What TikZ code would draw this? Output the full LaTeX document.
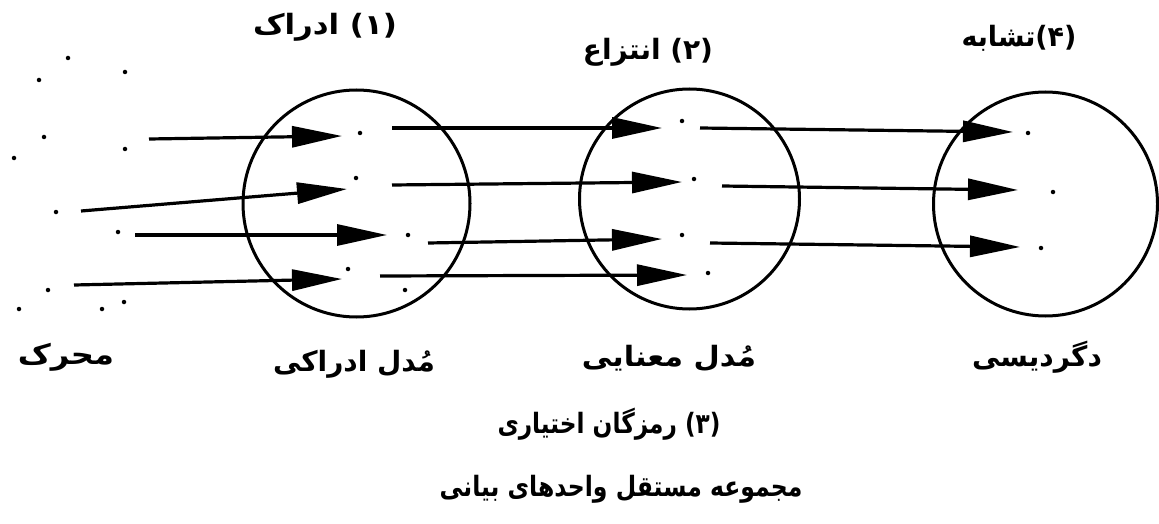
\documentclass[tikz,border=0pt]{standalone}
\usepackage{fontspec}
\usetikzlibrary{arrows.meta}
\TeXXeTstate=1
\newfontfamily\arabicfont[Script=Arabic]{DejaVu Sans}
\begin{document}
\begin{tikzpicture}[x=1pt,y=-1pt,
  dot/.style={circle,fill=black,inner sep=0pt,minimum size=4.5pt},
  ring/.style={draw=black,line width=3pt},
  flow/.style={line width=3.2pt,-{Triangle[length=50pt,width=21pt]}},
  lbl/.style={font=\arabicfont\bfseries\fontsize{28}{32}\selectfont,anchor=base,inner sep=0pt}]
\useasboundingbox[fill=white] (0,0) rectangle (1159,524);
% circles
\draw[ring] (356.5,203.5) circle[radius=113.5];
\draw[ring] (689.5,199) circle[radius=110];
\draw[ring] (1045.5,204) circle[radius=112];
% source dots
\foreach \n/\x/\y in {1/68/58,2/39/80,3/125/72,4/44/137,5/125/149,6/14/158,7/56/212,8/118/232,9/48/290,10/124/302,11/19/309,12/102/309}
  \node[dot] (s\n) at (\x,\y) {};
% perceptual model dots
\foreach \n/\x/\y in {1/360/133,2/356/178,3/408/235,4/348/269,5/405/290}
  \node[dot] (p\n) at (\x,\y) {};
% semantic model dots
\foreach \n/\x/\y in {1/682/121,2/694/179,3/682/235,4/708/273}
  \node[dot] (m\n) at (\x,\y) {};
% transformation dots
\foreach \n/\x/\y in {1/1028/133,2/1053/192,3/1041/248}
  \node[dot] (t\n) at (\x,\y) {};
% arrow end points
\coordinate (a1s) at (149,139); \coordinate (a1e) at (342,136);
\coordinate (a2s) at (81,211);  \coordinate (a2e) at (347,189);
\coordinate (a3s) at (135,235); \coordinate (a3e) at (387,235);
\coordinate (a4s) at (74,285);  \coordinate (a4e) at (342,279);
\coordinate (b1s) at (392,128); \coordinate (b1e) at (662,128);
\coordinate (b2s) at (392,185); \coordinate (b2e) at (682,182);
\coordinate (b3s) at (428,243); \coordinate (b3e) at (662,239);
\coordinate (b4s) at (380,276); \coordinate (b4e) at (687,275);
\coordinate (c1s) at (700,128); \coordinate (c1e) at (1013,132);
\coordinate (c2s) at (722,186); \coordinate (c2e) at (1018,190);
\coordinate (c3s) at (710,243); \coordinate (c3e) at (1020,247);
\foreach \k in {a1,a2,a3,a4,b1,b2,b3,b4,c1,c2,c3}
  \draw[flow] (\k s) -- (\k e);
% labels
\node[lbl] (l1) at (325,35) {\scalebox{1.1}[1]{\beginR (۱) ادراک\endR}};
\node[lbl] (l2) at (648,60) {\beginR (۲) انتزاع\endR};
\node[lbl] (l4) at (1019,47) {\scalebox{0.96}[1]{\beginR (۴)تشابه\endR}};
\node[lbl] (b0) at (66,364) {\scalebox{1.15}[1]{\beginR محرک\endR}};
\node[lbl] (b1) at (354,371) {\beginR مُدل ادراکی\endR};
\node[lbl] (b2) at (669,366) {\scalebox{1.08}[1]{\beginR مُدل معنایی\endR}};
\node[lbl] (b3) at (1037,366) {\beginR دگردیسی\endR};
\node[lbl] (l3) at (609,433) {\scalebox{0.83}[1]{\beginR (۳) رمزگان اختیاری\endR}};
\node[lbl] (l5) at (621,496) {\scalebox{0.84}[1]{\beginR مجموعه مستقل واحدهای بیانی\endR}};
\end{tikzpicture}
\end{document}
